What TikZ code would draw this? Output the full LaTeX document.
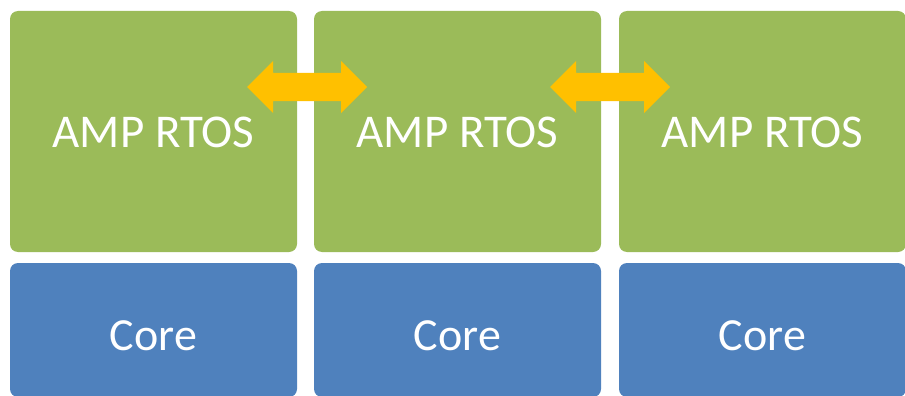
\documentclass[tikz,border=0pt]{standalone}
\usepackage{fontspec}
\setmainfont{Carlito}
\definecolor{osgreen}{HTML}{9BBB59}
\definecolor{coreblue}{HTML}{4F81BD}
\definecolor{linkgold}{HTML}{FFC000}
\begin{document}
\begin{tikzpicture}[x=1pt,y=-1pt,
  tile/.style={rounded corners=8pt, inner sep=0pt, text=white},
  ostile/.style={tile, fill=osgreen},
  coretile/.style={tile, fill=coreblue},
  tiletext/.style={text=white, inner sep=0pt, font=\fontsize{46}{50}\selectfont},
  ostext/.style={tiletext, font=\fontsize{47}{50}\selectfont},
  link/.style={fill=linkgold, draw=none}]
\useasboundingbox (0,0) rectangle (905,396);
% upper row: operating system tiles, lower row: core tiles
\foreach \i/\xl in {1/10, 2/314, 3/619} {
  \fill[ostile] (\xl,11) rectangle ++(287,241);
  \node[ostext, anchor=base] (os\i) at (\xl+143.5,147) {AMP RTOS};
  \fill[coretile] (\xl,263) rectangle ++(287,134);
  \node[tiletext, anchor=base] (core\i) at (\xl+143.5,350) {Core};
}
% double-headed links between neighbouring tiles
\foreach \cx in {307, 610} {
  \fill[link] (\cx-60,87) -- (\cx-34,61) -- (\cx-34,73) -- (\cx+34,73) -- (\cx+34,61)
    -- (\cx+60,87) -- (\cx+34,113) -- (\cx+34,101) -- (\cx-34,101) -- (\cx-34,113) -- cycle;
}
\end{tikzpicture}
\end{document}
